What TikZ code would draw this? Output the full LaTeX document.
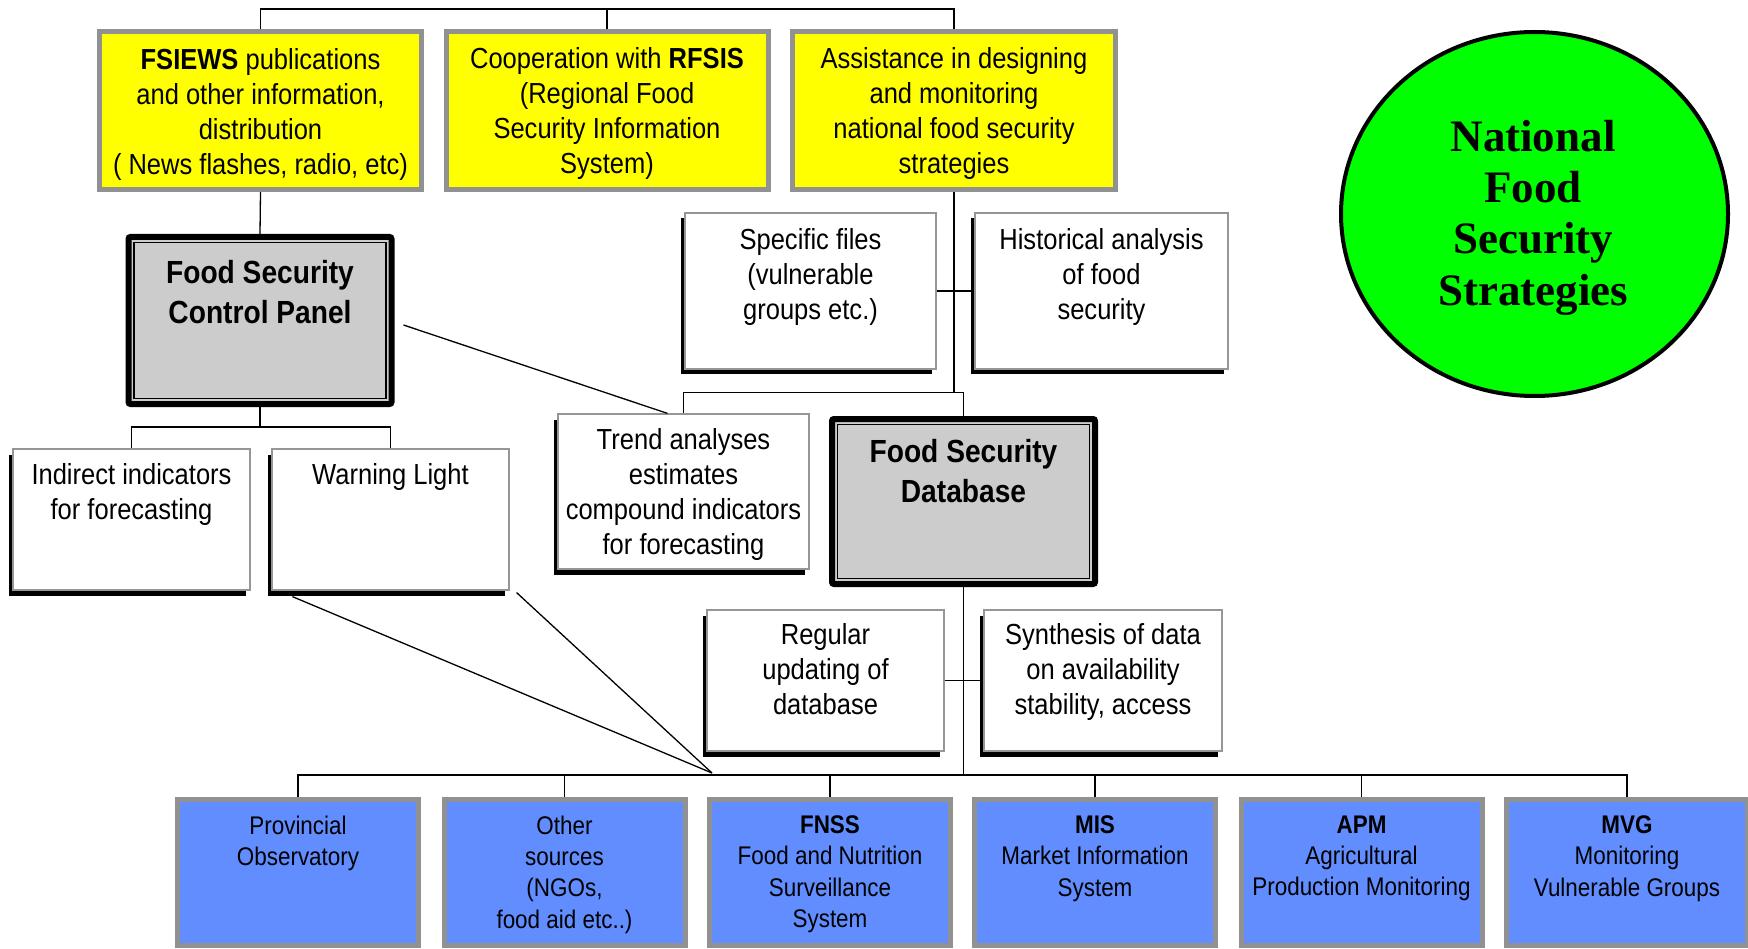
\documentclass[tikz,border=0pt]{standalone}
\usepackage{fontspec}
\setmainfont{Liberation Sans}[FakeStretch=0.88]
\newfontfamily\circfont{Liberation Serif}
\usetikzlibrary{shapes.geometric,shadows,calc}
\definecolor{ybox}{RGB}{255,255,0}
\definecolor{bbox}{RGB}{97,141,255}
\definecolor{gborder}{RGB}{145,145,145}
\definecolor{panelgray}{RGB}{204,204,204}
\definecolor{circgreen}{RGB}{0,255,0}
\definecolor{wborder}{RGB}{150,150,150}
\begin{document}
\begin{tikzpicture}[x=1pt,y=-1pt,
  conn/.style={draw=black, line width=1.3pt},
  ybx/.style={draw=gborder, line width=5pt, fill=ybox, inner sep=0, minimum width=322pt, minimum height=158pt},
  ytxt/.style={inner sep=0, align=center, font=\fontsize{29}{35}\selectfont},
  bbx/.style={draw=gborder, line width=5pt, fill=bbox, inner sep=0, minimum width=241pt, minimum height=146pt},
  wbx/.style={draw=wborder, line width=1.2pt, fill=white, inner sep=0, general shadow={fill=black, shadow xshift=-4.5pt, shadow yshift=-5.5pt}},
  panel/.style={draw=black, line width=6pt, fill=panelgray, inner sep=0, rounded corners=2pt, minimum width=263pt},
  txt/.style={inner sep=0, align=center, anchor=north, font=\fontsize{29}{35}\selectfont},
  btxt/.style={inner sep=0, align=center, anchor=north, font=\fontsize{25.5}{31.3}\selectfont},
  ptxt/.style={inner sep=0, align=center, anchor=north, font=\fontsize{32}{40}\selectfont\bfseries},
]
\useasboundingbox (0,0) rectangle (1748,949);

% top yellow boxes
\node[ybx] (fs) at (260.5,110.7) {};
\node[ytxt] (fst) at (260.5,114) {\textbf{FSIEWS} publications\\and other information,\\distribution\\( News flashes, radio, etc)};
\node[ybx] (rf) at (607,110.7) {};
\node[ytxt] (rft) at (607,114) {Cooperation with \textbf{RFSIS}\\(Regional Food\\Security Information\\System)};
\node[ybx, minimum width=323pt] (as) at (954,110.7) {};
\node[ytxt] (ast) at (954,114) {Assistance in designing\\and monitoring\\national food security\\strategies};

% control panel
\node[panel, minimum height=167pt] (cp) at (260,320.5) {};
\draw[line width=1.2pt] ([shift={(8.5pt,-8.5pt)}]cp.north west) rectangle ([shift={(-8.5pt,8.5pt)}]cp.south east);
\node[ptxt] (cpt) at (260,260) {Food Security\\Control Panel};

% database
\node[panel, minimum height=165pt] (db) at (963.5,501.5) {};
\draw[line width=1.2pt] ([shift={(8.5pt,-8.5pt)}]db.north west) rectangle ([shift={(-8.5pt,8.5pt)}]db.south east);
\node[ptxt] (dbt) at (963.5,439.5) {Food Security\\Database};

% white boxes
\node[wbx, minimum width=237pt, minimum height=141pt] (ind) at (131.5,519.5) {};
\node[txt] (indt) at (131.5,463) {Indirect indicators\\for forecasting};
\node[wbx, minimum width=237pt, minimum height=141pt] (warn) at (390.5,519.5) {};
\node[txt] (warnt) at (390.5,463) {Warning Light};
\node[wbx, minimum width=251pt, minimum height=156pt] (sp) at (810.5,291) {};
\node[txt] (spt) at (810.5,228) {Specific files\\(vulnerable\\groups etc.)};
\node[wbx, minimum width=253pt, minimum height=156pt] (hi) at (1101.5,291) {};
\node[txt] (hit) at (1101.5,228) {Historical analysis\\of food\\security};
\node[wbx, minimum width=251pt, minimum height=155pt] (tr) at (683.5,491.5) {};
\node[txt] (trt) at (683.5,428.5) {Trend analyses\\estimates\\compound indicators\\for forecasting};
\node[wbx, minimum width=237pt, minimum height=141pt] (rg) at (825.5,680.5) {};
\node[txt] (rgt) at (825.5,623.5) {Regular\\updating of\\database};
\node[wbx, minimum width=238pt, minimum height=141pt] (sy) at (1103,680.5) {};
\node[txt] (syt) at (1103,623.5) {Synthesis of data\\on availability\\stability, access};

% blue boxes
\node[bbx] (b1) at (298,872.5) {};
\node[btxt] (b1t) at (298,815.5) {Provincial\\Observatory};
\node[bbx] (b2) at (564.5,872.5) {};
\node[btxt] (b2t) at (564.5,815.5) {Other\\sources\\(NGOs,\\food aid etc..)};
\node[bbx] (b3) at (830,872.5) {};
\node[btxt] (b3t) at (830,815.5) {\textbf{FNSS}\\Food and Nutrition\\Surveillance\\System};
\node[bbx] (b4) at (1095,872.5) {};
\node[btxt] (b4t) at (1095,815.5) {\textbf{MIS}\\Market Information\\System};
\node[bbx] (b5) at (1361.5,872.5) {};
\node[btxt] (b5t) at (1361.5,815.5) {\textbf{APM}\\Agricultural\\Production Monitoring};
\node[bbx] (b6) at (1627,872.5) {};
\node[btxt] (b6t) at (1627,815.5) {\textbf{MVG}\\Monitoring\\Vulnerable Groups};

% circle
\node[ellipse, draw=black, line width=4pt, fill=circgreen, minimum width=387pt, minimum height=364pt, inner sep=0] (nfs) at (1534.5,214) {};
\node[inner sep=0, align=center, font=\circfont\bfseries\fontsize{45}{51.3}\selectfont] (nfst) at (1533,217.5) {National\\Food\\Security\\Strategies};

% connectors
\coordinate (topbus) at (0,9);
\draw[conn] (fs.north) |- (topbus -| as.north) -- (as.north);
\draw[conn] (rf.north) -- (rf.north |- topbus);
\draw[conn] (fs.south) -- (cp.north);
\coordinate (cpbus) at (0,427);
\draw[conn] (cp.south) -- (cp.south |- cpbus);
\draw[conn] (ind.north) |- (cpbus -| warn.north) -- (warn.north);
\coordinate (dbbus) at (0,392.5);
\draw[conn] (as.south) -- (as.south |- dbbus);
\draw[conn] (tr.north) |- (dbbus -| db.north) -- (db.north);
\draw[conn] (sp.east) -- (hi.west);
\draw[conn] (rg.east) -- (sy.west);
\coordinate (botbus) at (0,775);
\draw[conn] (db.south) -- (db.south |- botbus);
\draw[conn] (b1.north) |- (botbus -| b6.north) -- (b6.north);
\foreach \b in {b2,b3,b4,b5} \draw[conn] (\b.north) -- (\b.north |- botbus);
\coordinate (conv) at (712,773);
\draw[conn] (warn.south west) ++(21pt,-6pt) -- (conv);
\draw[conn] (warn.south east) ++(7pt,-2pt) -- (conv);
\draw[conn] (cp.east) ++(9pt,-4.5pt) -- ([xshift=-16pt]tr.north);
\end{tikzpicture}
\end{document}
